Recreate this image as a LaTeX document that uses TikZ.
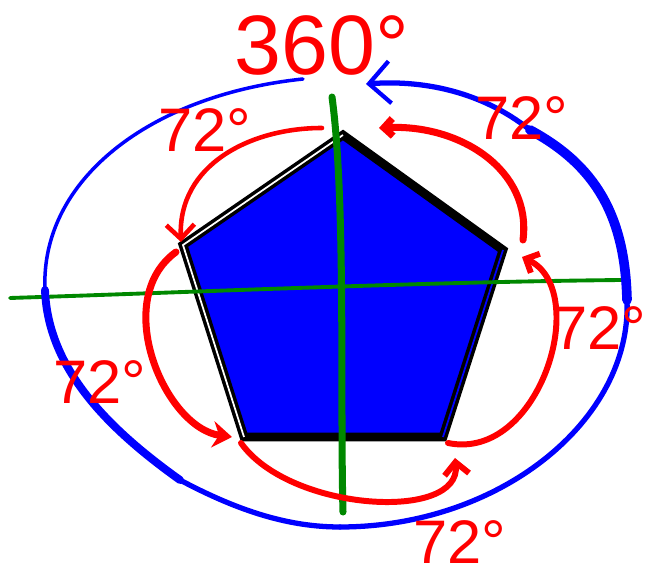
\documentclass[tikz,border=0pt]{standalone}
\usepackage{fontspec}
\setmainfont{Liberation Sans}
\usetikzlibrary{arrows.meta,calc}
\definecolor{penblue}{RGB}{0,0,255}
\definecolor{penred}{RGB}{255,0,0}
\definecolor{pengreen}{RGB}{0,136,0}

\begin{document}
\begin{tikzpicture}[x=0.02cm, y=-0.02cm,
  turn/.style={penred, line width=2.6pt, line cap=round},
  axis/.style={pengreen, line cap=round},
  loop/.style={penblue, line cap=round},
  angle/.style={penred, font=\fontsize{35}{35}\selectfont, inner sep=0pt},
  barb/.style={-{Straight Barb[length=#1, width=2*#1]}},
]
\useasboundingbox (0,0) rectangle (647,580);

% Pentagon corners
\coordinate (vT)  at (343,135);
\coordinate (vR)  at (503,250);
\coordinate (vBR) at (443,437);
\coordinate (vBL) at (244,437);
\coordinate (vL)  at (183,245);

% Pentagon
\draw[black, line width=5pt, line join=miter, fill=penblue]
  (vT) -- (vR) -- (vBR) -- (vBL) -- (vL) -- cycle;
\draw[white, line width=1pt] (vBL) -- (vL) -- (vT);
\draw[penblue, line width=1pt] (vR) -- (vBR);

% Axes
\coordinate (axN) at (332,97);
\coordinate (axS) at (343,512);
\coordinate (axW) at (10,298);
\coordinate (axE) at (622,280);
\draw[axis, line width=4pt] (axN) .. controls (346,200) and (340,400) .. (axS);
\draw[axis, line width=2.2pt] (axW) .. controls (200,292) and (420,282) .. (axE);

% Full turn (blue)
\coordinate (b0) at (303,79);
\coordinate (b1) at (45,290);
\coordinate (b2) at (180,480);
\coordinate (b3) at (340,527);
\coordinate (b4) at (627,300);
\coordinate (b5) at (530,130);
\coordinate (b6) at (366,84);
\draw[loop, line width=2pt] (b0) .. controls (150,95) and (40,180) .. (b1);
\draw[loop, line width=4.5pt] (b1) .. controls (48,370) and (110,430) .. (b2);
\draw[loop, line width=3pt] (b2) .. controls (240,512) and (290,527) .. (b3);
\draw[loop, line width=3pt] (b3) .. controls (500,527) and (632,420) .. (b4);
\draw[loop, line width=5.5pt] (b4) .. controls (625,215) and (595,165) .. (b5);
\draw[loop, line width=3pt, -{Straight Barb[length=12pt, width=24pt, line width=2.4pt]}]
  (b5) .. controls (480,90) and (420,80) .. (b6);

% Turns of 72 degrees (red)
\draw[turn, barb=8pt] ($(vT)+(-21,-7)$) .. controls (250,128) and (178,165) .. ($(vL)+(-2,-3)$);
\draw[turn, line width=4pt, -{Stealth[length=11pt, width=15pt]}]
  ($(vL)+(-7,7)$) .. controls (110,300) and (165,428) .. ($(vBL)+(-12,0)$);
\draw[turn, line width=3.4pt, barb=7pt] ($(vBL)+(-3,6)$) .. controls (290,512) and (462,522) .. ($(vBR)+(12,21)$);
\draw[turn, line width=3.4pt, barb=6pt] ($(vBR)+(5,6)$) .. controls (540,462) and (592,290) .. ($(vR)+(19,7)$);
\draw[turn, line width=4pt, barb=5pt] ($(vR)+(20,-10)$) .. controls (532,170) and (460,124) .. ($(vT)+(36,-7)$);

% Labels
\node[angle] (lbT)  at (205,130) {72°};
\node[angle] (lbL)  at (100,382) {72°};
\node[angle] (lbB)  at (460,542) {72°};
\node[angle] (lbR)  at (600,328) {72°};
\node[angle] (lbTR) at (522,118) {72°};
\node[angle, font=\fontsize{48}{48}\selectfont] (lb360) at (322,45) {360°};

\end{tikzpicture}
\end{document}
